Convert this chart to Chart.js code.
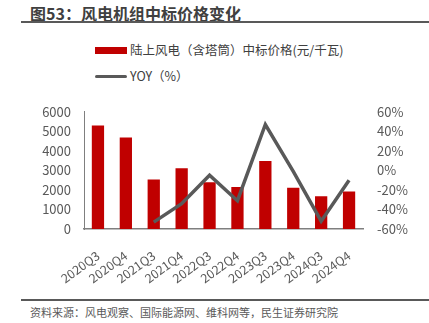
<!DOCTYPE html>
<html>
<head>
<meta charset="utf-8">
<script src="https://cdn.jsdelivr.net/npm/chart.js@4"></script>
<style>
  body { margin: 0; width: 429px; height: 323px; background: #fff; position: relative; overflow: hidden;
    font-family: "Noto Sans CJK SC", "Noto Sans", sans-serif; }
  #title { position: absolute; left: 30px; top: 1px; font-size: 16px; font-weight: bold; color: #404040; }
  #tline { position: absolute; left: 21px; right: 0; top: 21px; height: 2px; background: #595959; }
  .lg { position: absolute; left: 95px; font-size: 12.5px; color: #404040; line-height: 16px; }
  .lg i { display: inline-block; width: 32px; vertical-align: middle; margin-right: 3px; position: relative; top: -1px; }
  #fline { position: absolute; left: 21px; right: 0; top: 299px; height: 2px; background: #595959; }
  #foot { position: absolute; left: 30px; top: 304px; font-size: 11px; color: #595959; }
  #wrap { position: absolute; left: 0; top: 90px; width: 429px; height: 200px; }
</style>
</head>
<body>
<div id="title">图53：风电机组中标价格变化</div>
<div id="tline"></div>
<div class="lg" style="top:42px"><i style="height:7px;background:#C00000"></i>陆上风电（含塔筒）中标价格(元/千瓦)</div>
<div class="lg" style="top:68px"><i style="height:3px;background:#595959;border-radius:2px"></i>YOY（%）</div>
<div id="wrap"><canvas id="c"></canvas></div>
<div id="fline"></div>
<div id="foot">资料来源：风电观察、国际能源网、维科网等，民生证券研究院</div>
<script>
var categories = ["2020Q3", "2020Q4", "2021Q3", "2021Q4", "2022Q3", "2022Q4", "2023Q3", "2023Q4", "2024Q3", "2024Q4"];
var price = [5300, 4680, 2530, 3110, 2390, 2150, 3480, 2115, 1680, 1920];
var yoy = [null, null, -53, -34, -5, -31, 47, -1, -52, -10];
var leftTicks = [0, 1000, 2000, 3000, 4000, 5000, 6000];

var tickFont = { family: "'Noto Sans CJK SC', sans-serif", size: 13 };

new Chart(document.getElementById("c"), {
  type: "bar",
  data: {
    labels: categories,
    datasets: [
      {
        type: "line",
        label: "YOY（%）",
        data: yoy,
        yAxisID: "y1",
        borderColor: "#595959",
        borderWidth: 3.5,
        pointRadius: 0,
        tension: 0,
        order: 0
      },
      {
        label: "陆上风电（含塔筒）中标价格(元/千瓦)",
        data: price,
        backgroundColor: "#C00000",
        barPercentage: 0.44,
        categoryPercentage: 1,
        yAxisID: "y",
        order: 1
      }
    ]
  },
  options: {
    responsive: true,
    maintainAspectRatio: false,
    animation: false,
    layout: { padding: { top: 15, left: 0, right: 0, bottom: 0 } },
    plugins: { legend: { display: false }, tooltip: { enabled: false } },
    scales: {
      x: {
        grid: { display: false, drawTicks: false },
        border: { color: "#7f7f7f", width: 1.5 },
        ticks: { color: "#595959", font: { family: tickFont.family, size: 12.5 }, autoSkip: false,
          maxRotation: 36, minRotation: 36, padding: 19 },
        afterFit: function (s) { s.height = 61; }
      },
      y: {
        position: "left",
        min: 0, max: 6000,
        afterBuildTicks: function (s) { s.ticks = leftTicks.map(function (v) { return { value: v }; }); },
        grid: { display: false, drawTicks: false },
        border: { color: "#7f7f7f", width: 1 },
        ticks: { color: "#595959", font: tickFont, padding: 13, callback: function (v) { return String(v); } },
        afterFit: function (s) { s.width = 84; }
      },
      y1: {
        position: "right",
        min: -60, max: 60,
        ticks: { stepSize: 20, color: "#595959", font: tickFont, padding: 14, callback: function (v) { return v + "%"; } },
        grid: { display: false, drawTicks: false },
        border: { display: false },
        afterFit: function (s) { s.width = 66; }
      }
    }
  }
});
</script>
</body>
</html>
